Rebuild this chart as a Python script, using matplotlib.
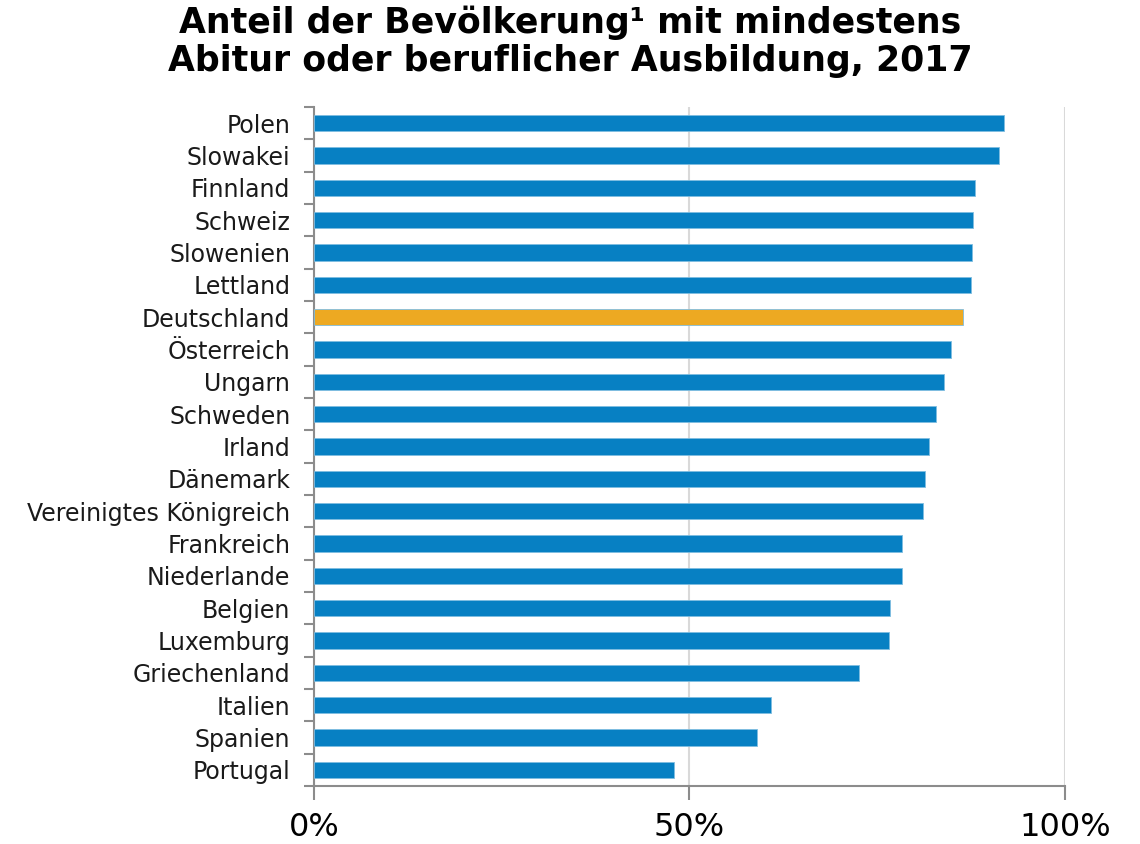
import matplotlib.pyplot as plt
import numpy as np

# share of population with at least Abitur or vocational training, 2017 (%)
countries = ['Polen', 'Slowakei', 'Finnland', 'Schweiz', 'Slowenien', 'Lettland',
             'Deutschland', 'Österreich', 'Ungarn', 'Schweden', 'Irland', 'Dänemark',
             'Vereinigtes Königreich', 'Frankreich', 'Niederlande', 'Belgien',
             'Luxemburg', 'Griechenland', 'Italien', 'Spanien', 'Portugal']
shares = [91.9, 91.2, 88.0, 87.8, 87.6, 87.5, 86.4, 84.8, 83.9, 82.8, 81.9, 81.3,
          81.1, 78.3, 78.3, 76.7, 76.6, 72.6, 60.8, 59.0, 47.9]
highlight = 'Deutschland'

blue = '#0780c3'
orange = '#eda922'
gray = '#8c8c8c'

fig = plt.figure(figsize=(11.4, 8.44), dpi=100)
ax = fig.add_axes([0.2754, 0.0687, 0.9342 - 0.2754, 0.8732 - 0.0687])

n = len(countries)
y = np.arange(n)
colors = [orange if c == highlight else blue for c in countries]
ax.barh(y, shares, height=0.5, color=colors, edgecolor='#7fbde0', linewidth=0.6, zorder=3)

ax.set_ylim(n - 0.5, -0.5)
ax.set_xlim(0, 100)

ax.set_yticks(y)
ax.set_yticklabels(countries, fontsize=17, color='#1a1a1a')
ax.set_yticks(np.arange(n + 1) - 0.5, minor=True)
ax.tick_params(axis='y', which='major', length=0, pad=17)
ax.tick_params(axis='y', which='minor', length=7, width=1.5, color=gray, direction='out')

ax.set_xticks([0, 50, 100])
ax.set_xticklabels(['0%', '50%', '100%'], fontsize=23)
ax.tick_params(axis='x', length=10, width=1.5, color=gray, pad=9)
ax.grid(axis='x', color='#d9d9d9', linewidth=1.5, zorder=0)

for side in ['top', 'right']:
    ax.spines[side].set_visible(False)
for side in ['left', 'bottom']:
    ax.spines[side].set_color(gray)
    ax.spines[side].set_linewidth(1.5)

fig.text(0.5, 0.994, 'Anteil der Bevölkerung¹ mit mindestens\nAbitur oder beruflicher Ausbildung, 2017',
         ha='center', va='top', fontsize=25, fontweight='bold', linespacing=1.15)

fig.savefig('out.png', dpi=100)
